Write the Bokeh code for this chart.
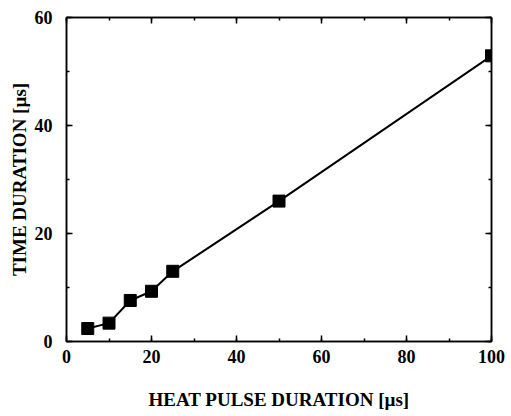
from bokeh.plotting import figure
from bokeh.models import LinearAxis, SingleIntervalTicker, Range1d, CustomJSTickFormatter
from bokeh.embed import file_html
from bokeh.resources import INLINE

pulse_us = [5, 10, 15, 20, 25, 50, 100]
time_us = [2.4, 3.4, 7.6, 9.3, 13.0, 26.0, 52.9]

FONT = "Liberation Serif"

p = figure(width=510, height=412, output_backend="svg", toolbar_location=None,
           x_range=Range1d(0, 100), y_range=Range1d(0, 60),
           x_axis_location=None, y_axis_location=None,
           min_border_left=66, min_border_top=17, min_border_right=19, min_border_bottom=69)
p.background_fill_color = "white"
p.border_fill_color = "white"
p.grid.visible = False
p.outline_line_color = "black"
p.outline_line_width = 1.5

def make_axis(show_labels, label=""):
    ax = LinearAxis(ticker=SingleIntervalTicker(interval=20, num_minor_ticks=2))
    ax.axis_line_color = "black"
    ax.axis_line_width = 1.5
    ax.major_tick_in = 6
    ax.major_tick_out = 0
    ax.minor_tick_in = 3
    ax.minor_tick_out = 0
    ax.major_tick_line_width = 1.5
    ax.minor_tick_line_width = 1.5
    ax.major_label_text_font = FONT
    ax.major_label_text_font_style = "bold"
    ax.major_label_text_font_size = "18px"
    ax.major_label_text_color = "black"
    if not show_labels:
        ax.formatter = CustomJSTickFormatter(code="return ''")
        ax.major_label_standoff = 0
    else:
        ax.axis_label = label
        ax.axis_label_text_font = FONT
        ax.axis_label_text_font_style = "bold"
        ax.axis_label_text_font_size = "19px"
        ax.axis_label_text_color = "black"
    return ax

xb = make_axis(True, "HEAT PULSE DURATION [µs]")
xb.major_label_standoff = 8
xb.axis_label_standoff = 23
p.add_layout(xb, "below")

yl = make_axis(True, "TIME DURATION [µs]")
yl.major_label_standoff = 14
yl.axis_label_standoff = 2
p.add_layout(yl, "left")

p.add_layout(make_axis(False), "above")
p.add_layout(make_axis(False), "right")

p.line(pulse_us, time_us, line_color="black", line_width=2)
p.scatter(pulse_us, time_us, marker="square", size=12, fill_color="black", line_color="black")

open("out.html", "w").write(file_html(p, INLINE))
